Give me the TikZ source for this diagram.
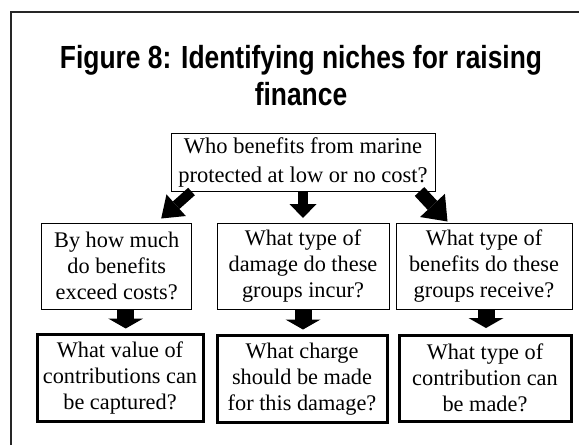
\documentclass[tikz,border=0pt]{standalone}
\usepackage{fontspec}
\setmainfont{Liberation Serif}
\newfontfamily\titlefont[FakeStretch=0.825]{Liberation Sans}
\usetikzlibrary{arrows.meta,calc}
\tikzset{
  qbox/.style={draw, line width=1pt, align=center, inner sep=0pt,
    font=\fontsize{22.3}{26}\selectfont},
  abox/.style={qbox, line width=3pt},
  ttl/.style={anchor=base, inner sep=0pt, font=\titlefont\bfseries\fontsize{32}{37}\selectfont},
  arrsmall/.style={line width=10pt, line cap=butt,
    -{Triangle[width=27pt,length=14pt,line width=0pt]}},
  arrdiagL/.style={line width=10pt, line cap=butt,
    -{Triangle[width=29pt,length=20pt,line width=0pt]}},
  arrdiagR/.style={line width=13pt, line cap=butt,
    -{Triangle[width=34pt,length=22pt,line width=0pt]}},
  arrlow/.style={line width=17pt, line cap=butt,
    -{Triangle[width=35pt,length=10pt,line width=0pt]}},
}
\begin{document}
\begin{tikzpicture}[x=1pt,y=-1pt]
\useasboundingbox (0,0) rectangle (579,445);
% frame
\draw[line width=1.5pt, black!85] (11,445) -- (11,12) -- (579,12);
% title
\node[ttl] (title1) at (301,68.3) {Figure 8: Identifying niches for raising};
\node[ttl] (title2) at (301,105) {finance};
% boxes
\node[qbox, minimum width=264pt, minimum height=58pt,
  font=\fontsize{22.5}{29}\selectfont] (top) at (303,162)
  {Who benefits from marine\\protected at low or no cost?};
\node[qbox, minimum width=150pt, minimum height=86pt] (l1) at (116.7,266)
  {By how much\\do benefits\\exceed costs?};
\node[qbox, minimum width=172pt, minimum height=86pt] (m1) at (303,266)
  {What type of\\damage do these\\groups incur?};
\node[qbox, minimum width=176pt, minimum height=86pt] (r1) at (484,266)
  {What type of\\benefits do these\\groups receive?};
\node[abox, minimum width=166pt, minimum height=87pt] (l2) at (120,378)
  {What value of\\contributions can\\be captured?};
\node[abox, minimum width=170pt, minimum height=87pt] (m2) at (302,379)
  {What charge\\should be made\\for this damage?};
\node[abox, minimum width=172pt, minimum height=86pt] (r2) at (485,378)
  {What type of\\contribution can\\be made?};
% arrows from top box
\draw[arrdiagL] ($(top.south west)+(21,0)$) -- ($(l1.north east)+(-31,-4)$);
\draw[arrsmall] (top.south) -- ($(top.south |- m1.north)+(0,-4.5)$);
\draw[arrdiagR] ($(top.south east)+(-16,0)$) -- ($(r1.north west)+(52,-1)$);
% arrows to bottom row
\coordinate (ls) at ($(l1.south)+(9,0)$);
\coordinate (ms) at (m1.south);
\coordinate (rs) at ($(r1.south)+(2,0)$);
\draw[arrlow] (ls) -- ($(ls |- l2.north)+(0,-4.5)$);
\draw[arrlow] (ms) -- ($(ms |- m2.north)+(0,-4.5)$);
\draw[arrlow] (rs) -- ($(rs |- r2.north)+(0,-5.5)$);
\end{tikzpicture}
\end{document}
